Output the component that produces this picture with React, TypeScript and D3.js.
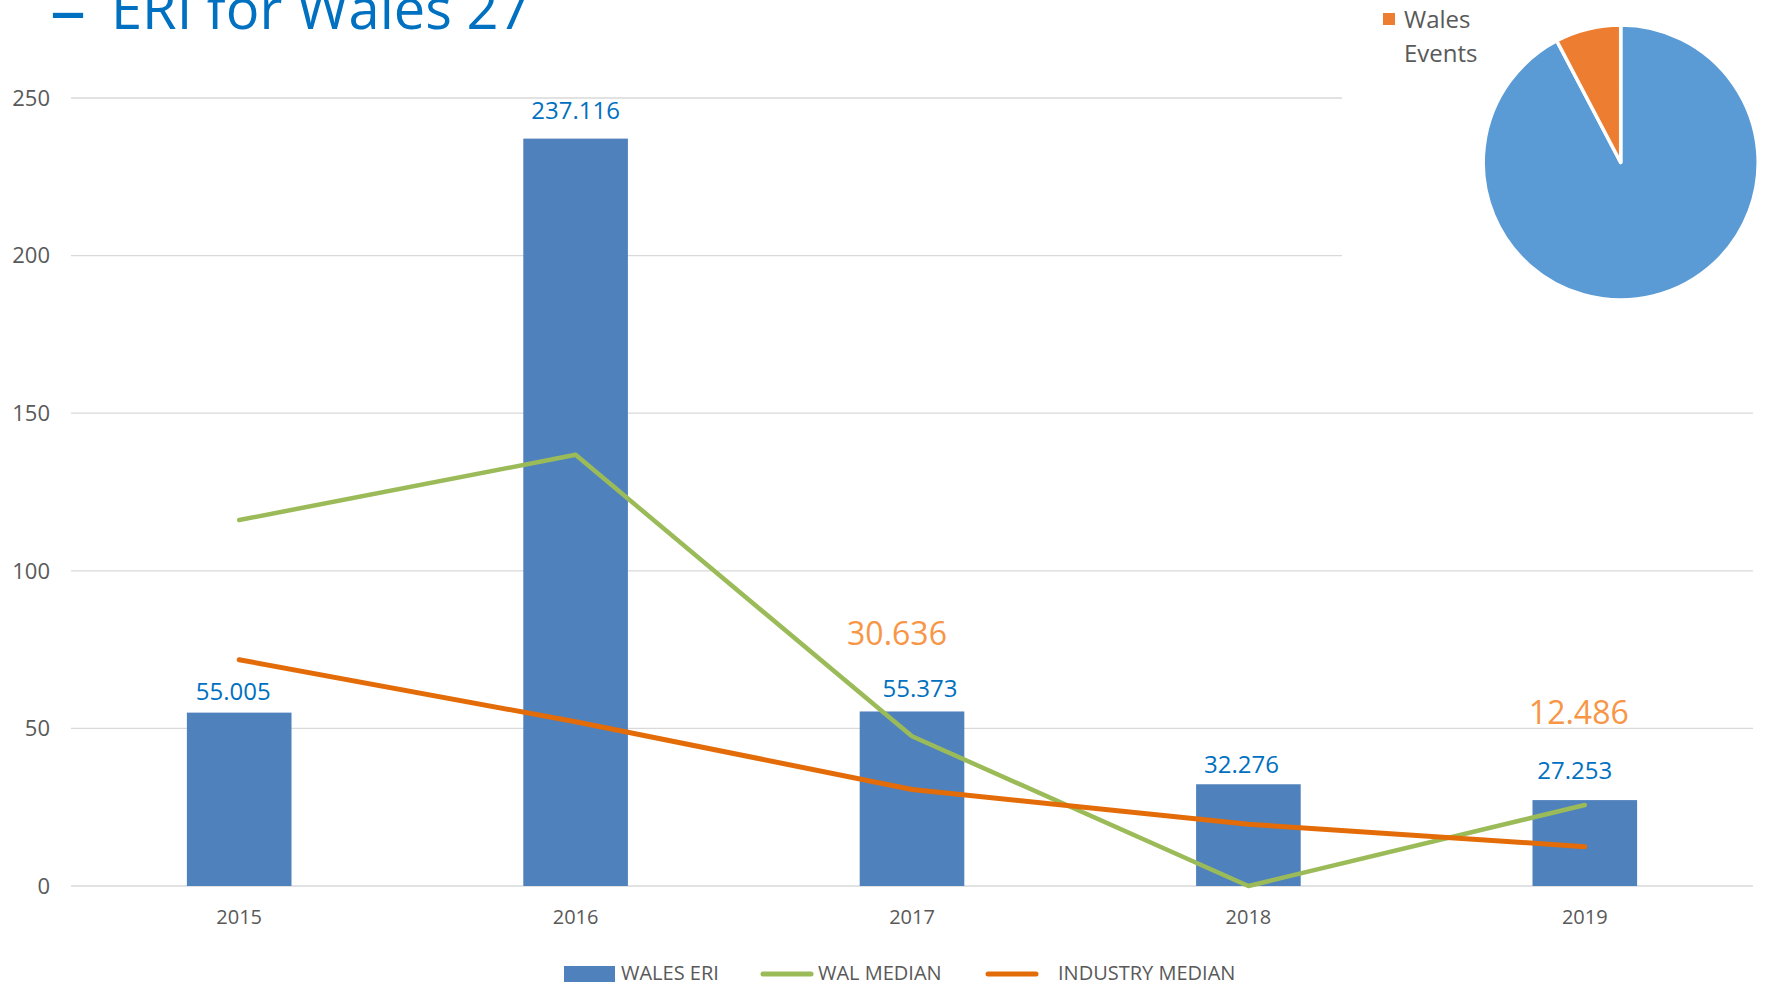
import React from 'react';
import * as d3 from 'd3';

const years = ['2015', '2016', '2017', '2018', '2019'];
const walesEri = [55.005, 237.116, 55.373, 32.276, 27.253];
const walMedian = [116.1, 136.8, 47.5, 0, 25.7];
const industryMedian = [71.8, 52.1, 30.636, 19.6, 12.486];
const industryLabelIdx = [2, 4];
const yTicks = [0, 50, 100, 150, 200, 250];
const pieNames = ['Other', 'Wales Events'];
const pieValues = [92.3, 7.7];
const legendNames = ['WALES ERI', 'WAL MEDIAN', 'INDUSTRY MEDIAN'];

const W = 1765;
const H = 985;
const FONT = "'Open Sans', 'Noto Sans', sans-serif";

// layout nudges for value labels (px), as placed in the original
const eriNudge = [[-6, -13], [0, -20], [8, -14], [-7, -11.5], [-10, -21.5]];
const indNudge: Record<number, [number, number]> = { 2: [-15, -66.5], 4: [-6, -76] };

export default function App() {
  const x = d3.scaleBand<string>().domain(years).range([71, 1753]).padding(0);
  const y = d3.scaleLinear().domain([0, 250]).range([886, 98]);
  const bw = x.bandwidth() * 0.311;
  const cx = (d: string) => (x(d) as number) + x.bandwidth() / 2;

  const line = d3
    .line<number>()
    .x((_, i) => cx(years[i]))
    .y((v) => y(v));

  const pie = d3.pie<number>().sort(null)(pieValues);
  const arc = d3.arc<d3.PieArcDatum<number>>().innerRadius(0).outerRadius(137.5);
  const pieColors = ['#5B9BD5', '#ED7D31'];

  return (
    <svg
      width={W}
      height={H}
      style={{ position: 'absolute', left: 0, top: 0, background: '#fff' }}
      fontFamily={FONT}
    >
      <rect x={0} y={0} width={W} height={H} fill="#fff" />
      {/* title */}
      <text x={50} y={35} fontSize={72} fill="#0070C0">–</text>
      <text x={111} y={29} fontSize={56} fill="#0070C0">ERI for Wales 27</text>

      {/* gridlines */}
      {yTicks.map((t) => (
        <g key={t}>
          <line x1={71} x2={1753} y1={y(t)} y2={y(t)} stroke="#D9D9D9" strokeWidth={1.3} />
          <text x={50} y={y(t)} dy="0.35em" textAnchor="end" fontSize={22} fill="#595959">
            {t}
          </text>
        </g>
      ))}

      {/* bars */}
      {years.map((yr, i) => (
        <rect
          key={yr}
          x={cx(yr) - bw / 2}
          y={y(walesEri[i])}
          width={bw}
          height={y(0) - y(walesEri[i])}
          fill="#4F81BD"
        />
      ))}

      {/* lines */}
      <path d={line(walMedian) as string} fill="none" stroke="#9BBB59" strokeWidth={4.5} strokeLinejoin="round" strokeLinecap="round" />
      <path d={line(industryMedian) as string} fill="none" stroke="#E36C09" strokeWidth={5} strokeLinejoin="round" strokeLinecap="round" />

      {/* bar labels */}
      {years.map((yr, i) => (
        <text
          key={yr}
          x={cx(yr) + eriNudge[i][0]}
          y={y(walesEri[i]) + eriNudge[i][1]}
          textAnchor="middle"
          fontSize={24}
          fill="#0070C0"
        >
          {walesEri[i].toFixed(3)}
        </text>
      ))}
      {industryLabelIdx.map((i) => (
        <text
          key={i}
          x={cx(years[i]) + indNudge[i][0]}
          y={y(walesEri[i]) + indNudge[i][1]}
          textAnchor="middle"
          fontSize={32}
          fill="#F79646"
        >
          {industryMedian[i].toFixed(3)}
        </text>
      ))}

      {/* x labels */}
      {years.map((yr) => (
        <text key={yr} x={cx(yr)} y={917} dy="0.35em" textAnchor="middle" fontSize={20} fill="#595959">
          {yr}
        </text>
      ))}

      {/* legend */}
      <rect x={564} y={966} width={51} height={16} fill="#4F81BD" />
      <text x={621} y={973} dy="0.35em" fontSize={20} fill="#595959">{legendNames[0]}</text>
      <line x1={763} x2={811} y1={974} y2={974} stroke="#9BBB59" strokeWidth={5} strokeLinecap="round" />
      <text x={818} y={973} dy="0.35em" fontSize={20} fill="#595959">{legendNames[1]}</text>
      <line x1={988} x2={1036} y1={974} y2={974} stroke="#E36C09" strokeWidth={5} strokeLinecap="round" />
      <text x={1058} y={973} dy="0.35em" fontSize={20} fill="#595959">{legendNames[2]}</text>

      {/* pie overlay */}
      <rect x={1342} y={0} width={W - 1342} height={305} fill="#fff" />
      <g transform="translate(1620.7,162.5)">
        {pie.map((p, i) => (
          <path key={i} d={arc(p) as string} fill={pieColors[i]} stroke="#fff" strokeWidth={3.5} strokeLinejoin="round" />
        ))}
      </g>
      <rect x={1383} y={13} width={12} height={12} fill="#ED7D31" />
      <text x={1404} y={28} fontSize={24} fill="#595959">{pieNames[1].split(' ')[0]}</text>
      <text x={1404} y={62} fontSize={24} fill="#595959">{pieNames[1].split(' ')[1]}</text>
    </svg>
  );
}
